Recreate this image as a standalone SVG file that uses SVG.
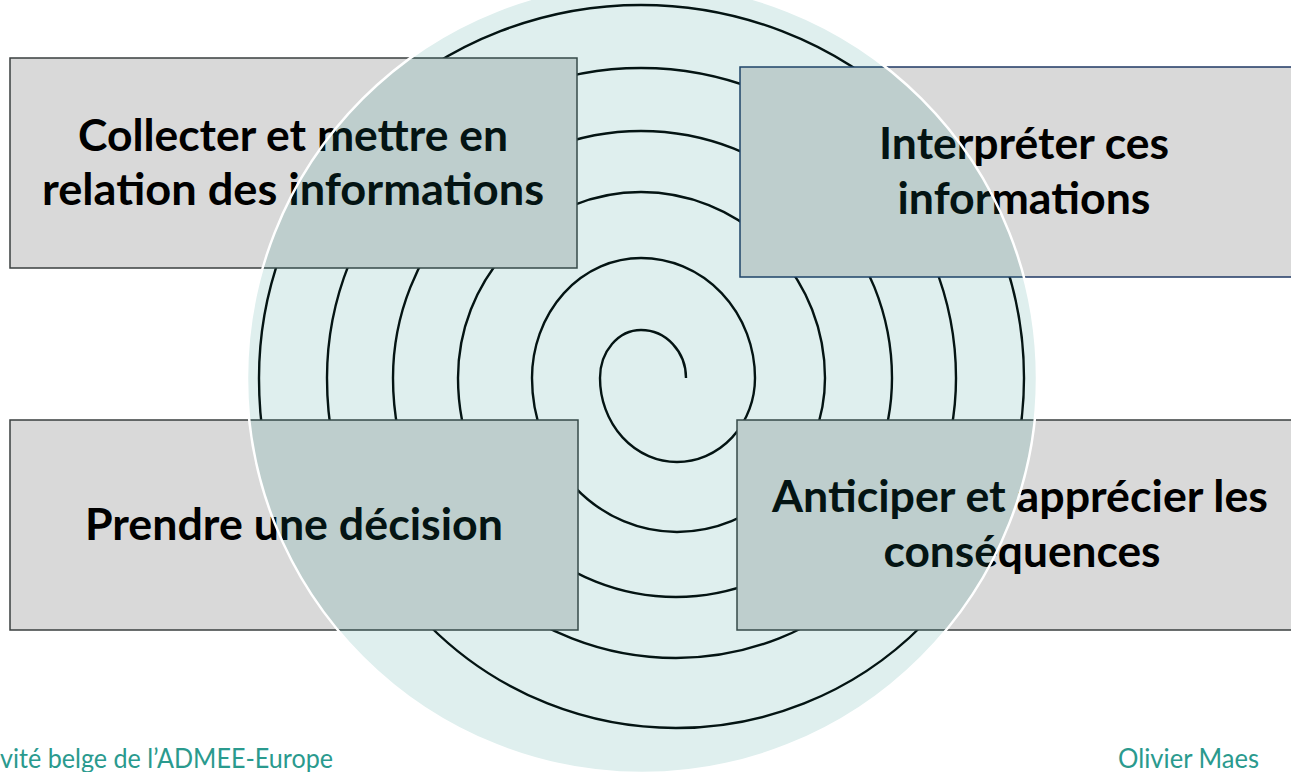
<svg xmlns="http://www.w3.org/2000/svg" width="1291" height="772" viewBox="0 0 1291 772">
  <style>
    .box { fill: #d9d9d9; stroke: #3a3f3f; stroke-width: 1.5; }
    .box2 { fill: #d9d9d9; stroke: #1f3864; stroke-width: 1.5; }
    .lbl { font-family: Lato, "Liberation Sans", sans-serif; font-weight: bold; font-size: 43px; fill: #000; text-anchor: middle; }
    .foot { font-family: Lato, "Liberation Sans", sans-serif; font-size: 27px; fill: #2a9a8e; }
    .spiral { fill: none; stroke: #000; stroke-width: 2.4; }
  </style>
  <rect x="0" y="0" width="1291" height="772" fill="#ffffff"/>

  <g id="connectors">
    <path class="spiral" d="M686,378 A45,48 0 0 0 641,330 A41,48 0 0 0 600,378 A77,84 0 0 0 677,462 A78,84 0 0 0 755,378 A114,120 0 0 0 641,258 A109,120 0 0 0 532,378 A145,154 0 0 0 677,532 A148,154 0 0 0 825,378 A184,186 0 0 0 641,192 A183,186 0 0 0 458,378 A218,219 0 0 0 676,597 A216,219 0 0 0 892,378 A251,247 0 0 0 641,131 A248,247 0 0 0 393,378 A283,280 0 0 0 676,658 A280,280 0 0 0 956,378 A315,310 0 0 0 641,68 A314,310 0 0 0 327,378 A349,350 0 0 0 676,728 A348,350 0 0 0 1024,378 A383,373 0 0 0 641,5 A382,373 0 0 0 259,378 A417,415 0 0 0 284,520"/>
  </g>

  <g id="node-collecter">
    <rect class="box" x="10" y="58" width="567" height="210"/>
    <text class="lbl" x="293" y="151" textLength="430" lengthAdjust="spacingAndGlyphs">Collecter et mettre en</text>
    <text class="lbl" x="293" y="205" textLength="502" lengthAdjust="spacingAndGlyphs">relation des informations</text>
  </g>

  <g id="node-interpreter">
    <rect class="box2" x="740" y="67" width="570" height="210"/>
    <text class="lbl" x="1024" y="159" textLength="290" lengthAdjust="spacingAndGlyphs">Interpréter ces</text>
    <text class="lbl" x="1024" y="214" textLength="253" lengthAdjust="spacingAndGlyphs">informations</text>
  </g>

  <g id="node-decision">
    <rect class="box" x="10" y="420" width="568" height="210"/>
    <text class="lbl" x="294" y="540" textLength="418" lengthAdjust="spacingAndGlyphs">Prendre une décision</text>
  </g>

  <g id="node-anticiper">
    <rect class="box" x="737" y="420" width="570" height="210"/>
    <text class="lbl" x="1020" y="512" textLength="496" lengthAdjust="spacingAndGlyphs">Anticiper et apprécier les</text>
    <text class="lbl" x="1022" y="567" textLength="277" lengthAdjust="spacingAndGlyphs">conséquences</text>
  </g>

  <g id="circle-overlay">
    <circle cx="642" cy="378" r="395" fill="#1f8c84" fill-opacity="0.14" stroke="#ffffff" stroke-width="2.5"/>
  </g>

  <g id="footer">
    <text class="foot" x="0" y="768" textLength="333" lengthAdjust="spacingAndGlyphs">vité belge de l’ADMEE-Europe</text>
    <text class="foot" x="1118" y="768" textLength="141" lengthAdjust="spacingAndGlyphs">Olivier Maes</text>
  </g>
</svg>
